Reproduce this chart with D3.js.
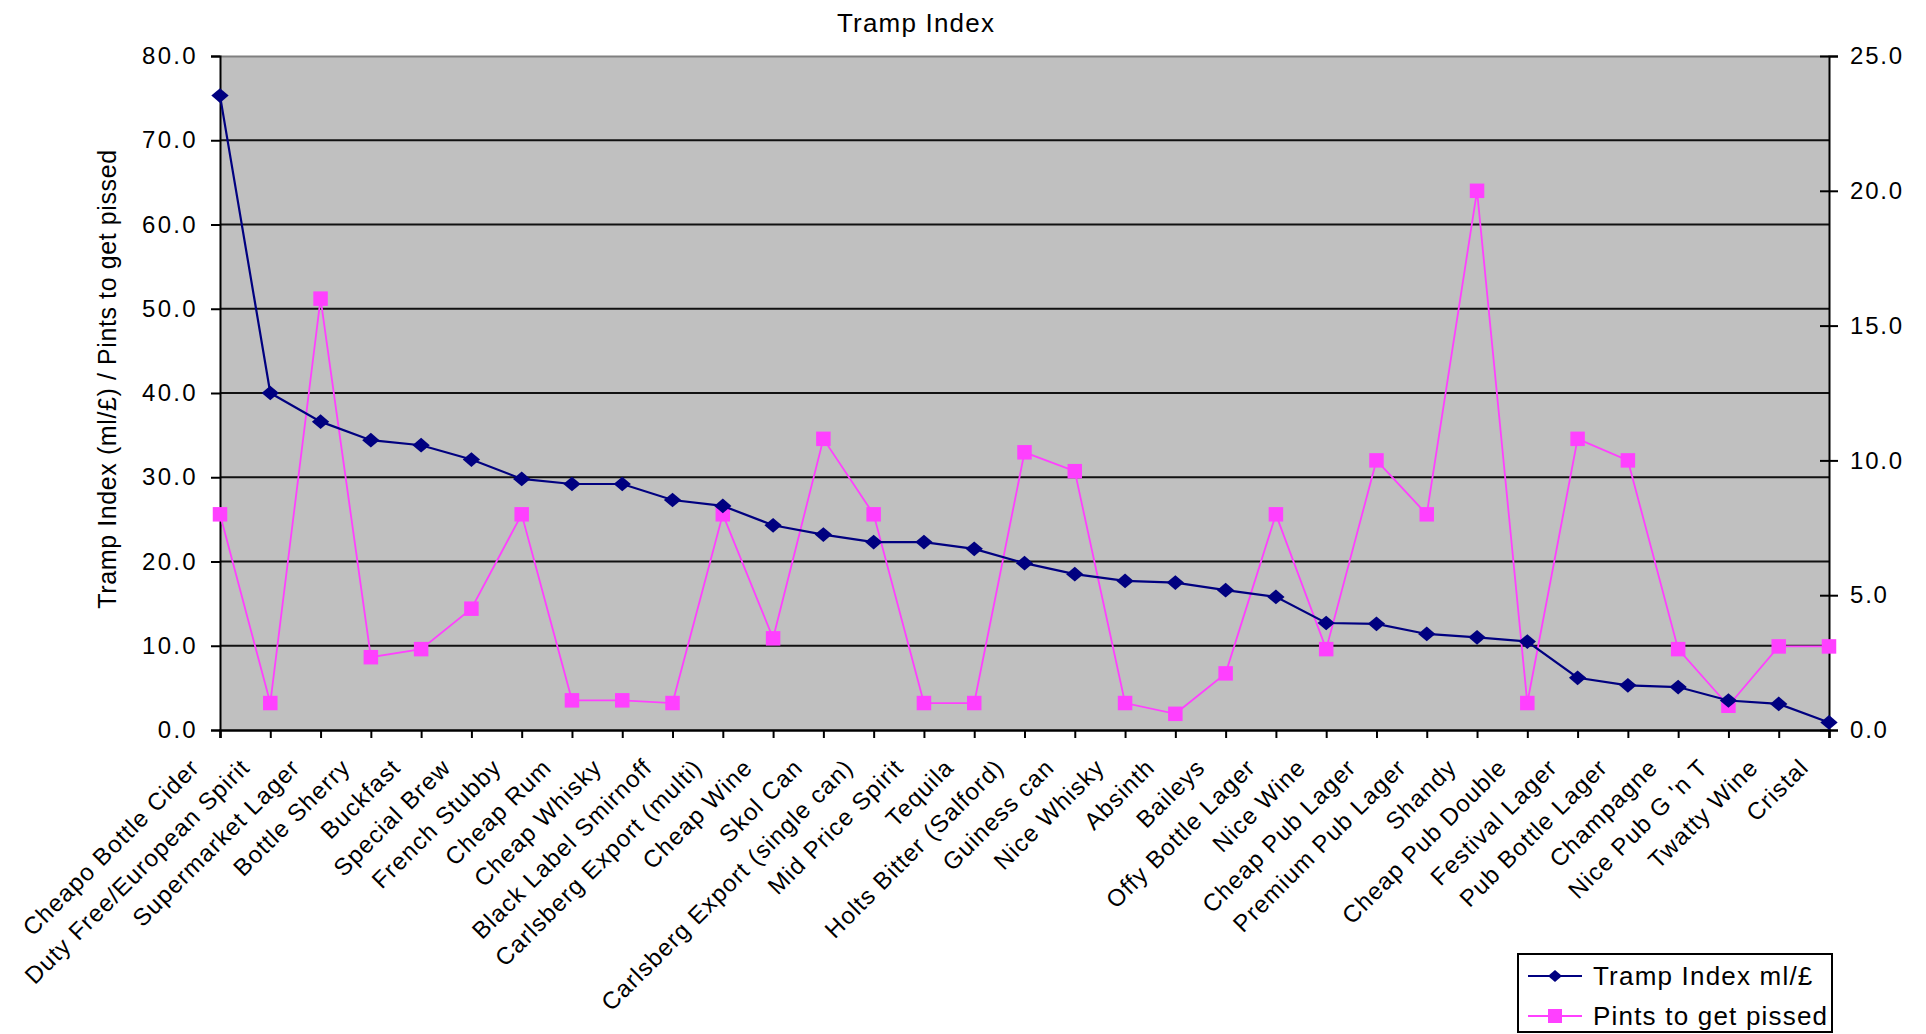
<!DOCTYPE html>
<html>
<head>
<meta charset="utf-8">
<script src="https://cdn.jsdelivr.net/npm/d3@7"></script>
<style>
  html, body { margin: 0; padding: 0; background: #fff; }
  svg { display: block; }
  text { font-family: "Liberation Sans", Arial, sans-serif; fill: #000; }
</style>
</head>
<body>
<svg id="chart" width="1926" height="1034"></svg>
<script>
// Drinks, ranked by Tramp Index
const categories = [
  "Cheapo Bottle Cider", "Duty Free/European Spirit", "Supermarket Lager", "Bottle Sherry",
  "Buckfast", "Special Brew", "French Stubby", "Cheap Rum", "Cheap Whisky",
  "Black Label Smirnoff", "Carlsberg Export (multi)", "Cheap Wine", "Skol Can",
  "Carlsberg Export (single can)", "Mid Price Spirit", "Tequila", "Holts Bitter (Salford)",
  "Guiness can", "Nice Whisky", "Absinth", "Baileys", "Offy Bottle Lager", "Nice Wine",
  "Cheap Pub Lager", "Premium Pub Lager", "Shandy", "Cheap Pub Double", "Festival Lager",
  "Pub Bottle Lager", "Champagne", "Nice Pub G 'n T", "Twatty Wine", "Cristal"
];

// Tramp Index, ml per £ (left axis)
const trampIndex = [
  75.3, 40.0, 36.6, 34.4, 33.8, 32.1, 29.8, 29.2, 29.2, 27.3, 26.6, 24.3, 23.2,
  22.3, 22.3, 21.5, 19.8, 18.5, 17.7, 17.5, 16.6, 15.8, 12.7, 12.6, 11.4, 11.0,
  10.5, 6.2, 5.3, 5.1, 3.5, 3.1, 0.9
];

// Pints to get pissed (right axis)
const pints = [
  8.0, 1.0, 16.0, 2.7, 3.0, 4.5, 8.0, 1.1, 1.1, 1.0, 8.0, 3.4, 10.8,
  8.0, 1.0, 1.0, 10.3, 9.6, 1.0, 0.6, 2.1, 8.0, 3.0, 10.0, 8.0, 20.0,
  1.0, 10.8, 10.0, 3.0, 0.9, 3.1, 3.1
];

const leftTicks = [0, 10, 20, 30, 40, 50, 60, 70, 80];
const rightTicks = [0, 5, 10, 15, 20, 25];

const seriesNames = ["Tramp Index ml/\u00a3", "Pints to get pissed"];
const titleText = "Tramp Index";
const yTitleText = "Tramp Index (ml/\u00a3) / Pints to get pissed";

const plot = { left: 220, right: 1829, top: 56, bottom: 730 };
const navy = "#000080";
const pink = "#ff40ff";
const plotFill = "#c0c0c0";

const svg = d3.select("#chart");

const x = d3.scalePoint().domain(categories).range([plot.left, plot.right]).padding(0);
const yL = d3.scaleLinear().domain([0, 80]).range([plot.bottom, plot.top]);
const yR = d3.scaleLinear().domain([0, 25]).range([plot.bottom, plot.top]);

// plot area
svg.append("rect")
  .attr("x", plot.left).attr("y", plot.top)
  .attr("width", plot.right - plot.left).attr("height", plot.bottom - plot.top)
  .attr("fill", plotFill);

// top edge of plot area
svg.append("line")
  .attr("x1", plot.left).attr("x2", plot.right)
  .attr("y1", plot.top + 0.5).attr("y2", plot.top + 0.5)
  .attr("stroke", "#808080").attr("stroke-width", 2);

// horizontal gridlines from the left axis
svg.append("g")
  .selectAll("line")
  .data(leftTicks.filter(d => d > 0 && d < 80))
  .join("line")
  .attr("x1", plot.left).attr("x2", plot.right)
  .attr("y1", d => yL(d)).attr("y2", d => yL(d))
  .attr("stroke", "#111").attr("stroke-width", 2.2);

// left axis
const leftAxis = d3.axisLeft(yL).tickValues(leftTicks).tickFormat(d3.format(".1f"))
  .tickSize(9).tickPadding(13);
const gL = svg.append("g").attr("transform", `translate(${plot.left},0)`).call(leftAxis);
gL.select(".domain").attr("stroke", "#000").attr("stroke-width", 2);
gL.selectAll(".tick line").attr("stroke", "#000").attr("stroke-width", 2);
gL.selectAll(".tick text")
  .attr("font-size", 24).attr("letter-spacing", 2.3)
  .attr("font-family", "'Liberation Sans', Arial, sans-serif").attr("fill", "#111");

// right axis (crossing ticks)
const rightAxis = d3.axisRight(yR).tickValues(rightTicks).tickFormat(d3.format(".1f"))
  .tickSize(9).tickPadding(12);
const gR = svg.append("g").attr("transform", `translate(${plot.right},0)`).call(rightAxis);
gR.select(".domain").attr("stroke", "#000").attr("stroke-width", 2);
gR.selectAll(".tick line").attr("x1", -9).attr("stroke", "#000").attr("stroke-width", 2);
gR.selectAll(".tick text")
  .attr("font-size", 24).attr("letter-spacing", 1.8)
  .attr("font-family", "'Liberation Sans', Arial, sans-serif").attr("fill", "#111");

// category axis
const bottomAxis = d3.axisBottom(x).tickSize(8).tickFormat("");
const gB = svg.append("g").attr("transform", `translate(0,${plot.bottom})`).call(bottomAxis);
gB.select(".domain").attr("stroke", "#000").attr("stroke-width", 2.5);
gB.selectAll(".tick line").attr("stroke", "#000").attr("stroke-width", 2);

// rotated category labels
svg.append("g")
  .selectAll("text")
  .data(categories)
  .join("text")
  .attr("transform", d => `translate(${x(d) - 19},${plot.bottom + 39}) rotate(-45)`)
  .attr("text-anchor", "end")
  .attr("font-size", 24)
  .attr("letter-spacing", 1.15)
  .attr("fill", "#111")
  .text(d => d);

// diamond marker (square rotated 45 degrees)
const diamond = {
  draw(ctx, size) {
    const r = Math.sqrt(size) / 2;
    ctx.moveTo(0, -r * 0.85);
    ctx.lineTo(r, 0);
    ctx.lineTo(0, r * 0.85);
    ctx.lineTo(-r, 0);
    ctx.closePath();
  }
};

// Pints to get pissed series
const pintsData = categories.map((c, i) => ({ c, v: pints[i] }));
svg.append("path")
  .datum(pintsData)
  .attr("fill", "none").attr("stroke", pink).attr("stroke-width", 1.8)
  .attr("d", d3.line().x(d => x(d.c)).y(d => yR(d.v)));
svg.append("g")
  .selectAll("path")
  .data(pintsData)
  .join("path")
  .attr("transform", d => `translate(${x(d.c)},${yR(d.v)})`)
  .attr("d", d3.symbol(d3.symbolSquare, 210))
  .attr("fill", pink);

// Tramp Index series
const trampData = categories.map((c, i) => ({ c, v: trampIndex[i] }));
svg.append("path")
  .datum(trampData)
  .attr("fill", "none").attr("stroke", navy).attr("stroke-width", 2.2)
  .attr("d", d3.line().x(d => x(d.c)).y(d => yL(d.v)));
svg.append("g")
  .selectAll("path")
  .data(trampData)
  .join("path")
  .attr("transform", d => `translate(${x(d.c)},${yL(d.v)})`)
  .attr("d", d3.symbol(diamond, 300))
  .attr("fill", navy);

// chart title
svg.append("text")
  .attr("x", 916).attr("y", 32)
  .attr("text-anchor", "middle")
  .attr("font-size", 26).attr("letter-spacing", 1.2)
  .text(titleText);

// value axis title
svg.append("text")
  .attr("transform", `translate(116,379) rotate(-90)`)
  .attr("text-anchor", "middle")
  .attr("font-size", 25).attr("letter-spacing", 0.6)
  .text(yTitleText);

// legend
const legend = svg.append("g").attr("transform", "translate(1518,954)");
legend.append("rect")
  .attr("x", 0).attr("y", 0).attr("width", 314).attr("height", 78)
  .attr("fill", "#fff").attr("stroke", "#000").attr("stroke-width", 2);
const legendRows = [
  { name: seriesNames[0], color: navy, symbol: diamond, size: 196, y: 22 },
  { name: seriesNames[1], color: pink, symbol: d3.symbolSquare, size: 196, y: 62 }
];
const row = legend.selectAll("g.row").data(legendRows).join("g")
  .attr("class", "row")
  .attr("transform", d => `translate(0,${d.y})`);
row.append("line")
  .attr("x1", 10).attr("x2", 64).attr("y1", 0).attr("y2", 0)
  .attr("stroke", d => d.color).attr("stroke-width", 2);
row.append("path")
  .attr("transform", "translate(37,0)")
  .attr("d", d => d3.symbol(d.symbol, d.size)())
  .attr("fill", d => d.color);
row.append("text")
  .attr("x", 75).attr("y", 9)
  .attr("font-size", 26).attr("letter-spacing", 1.2)
  .attr("fill", "#111")
  .text(d => d.name);
</script>
</body>
</html>
